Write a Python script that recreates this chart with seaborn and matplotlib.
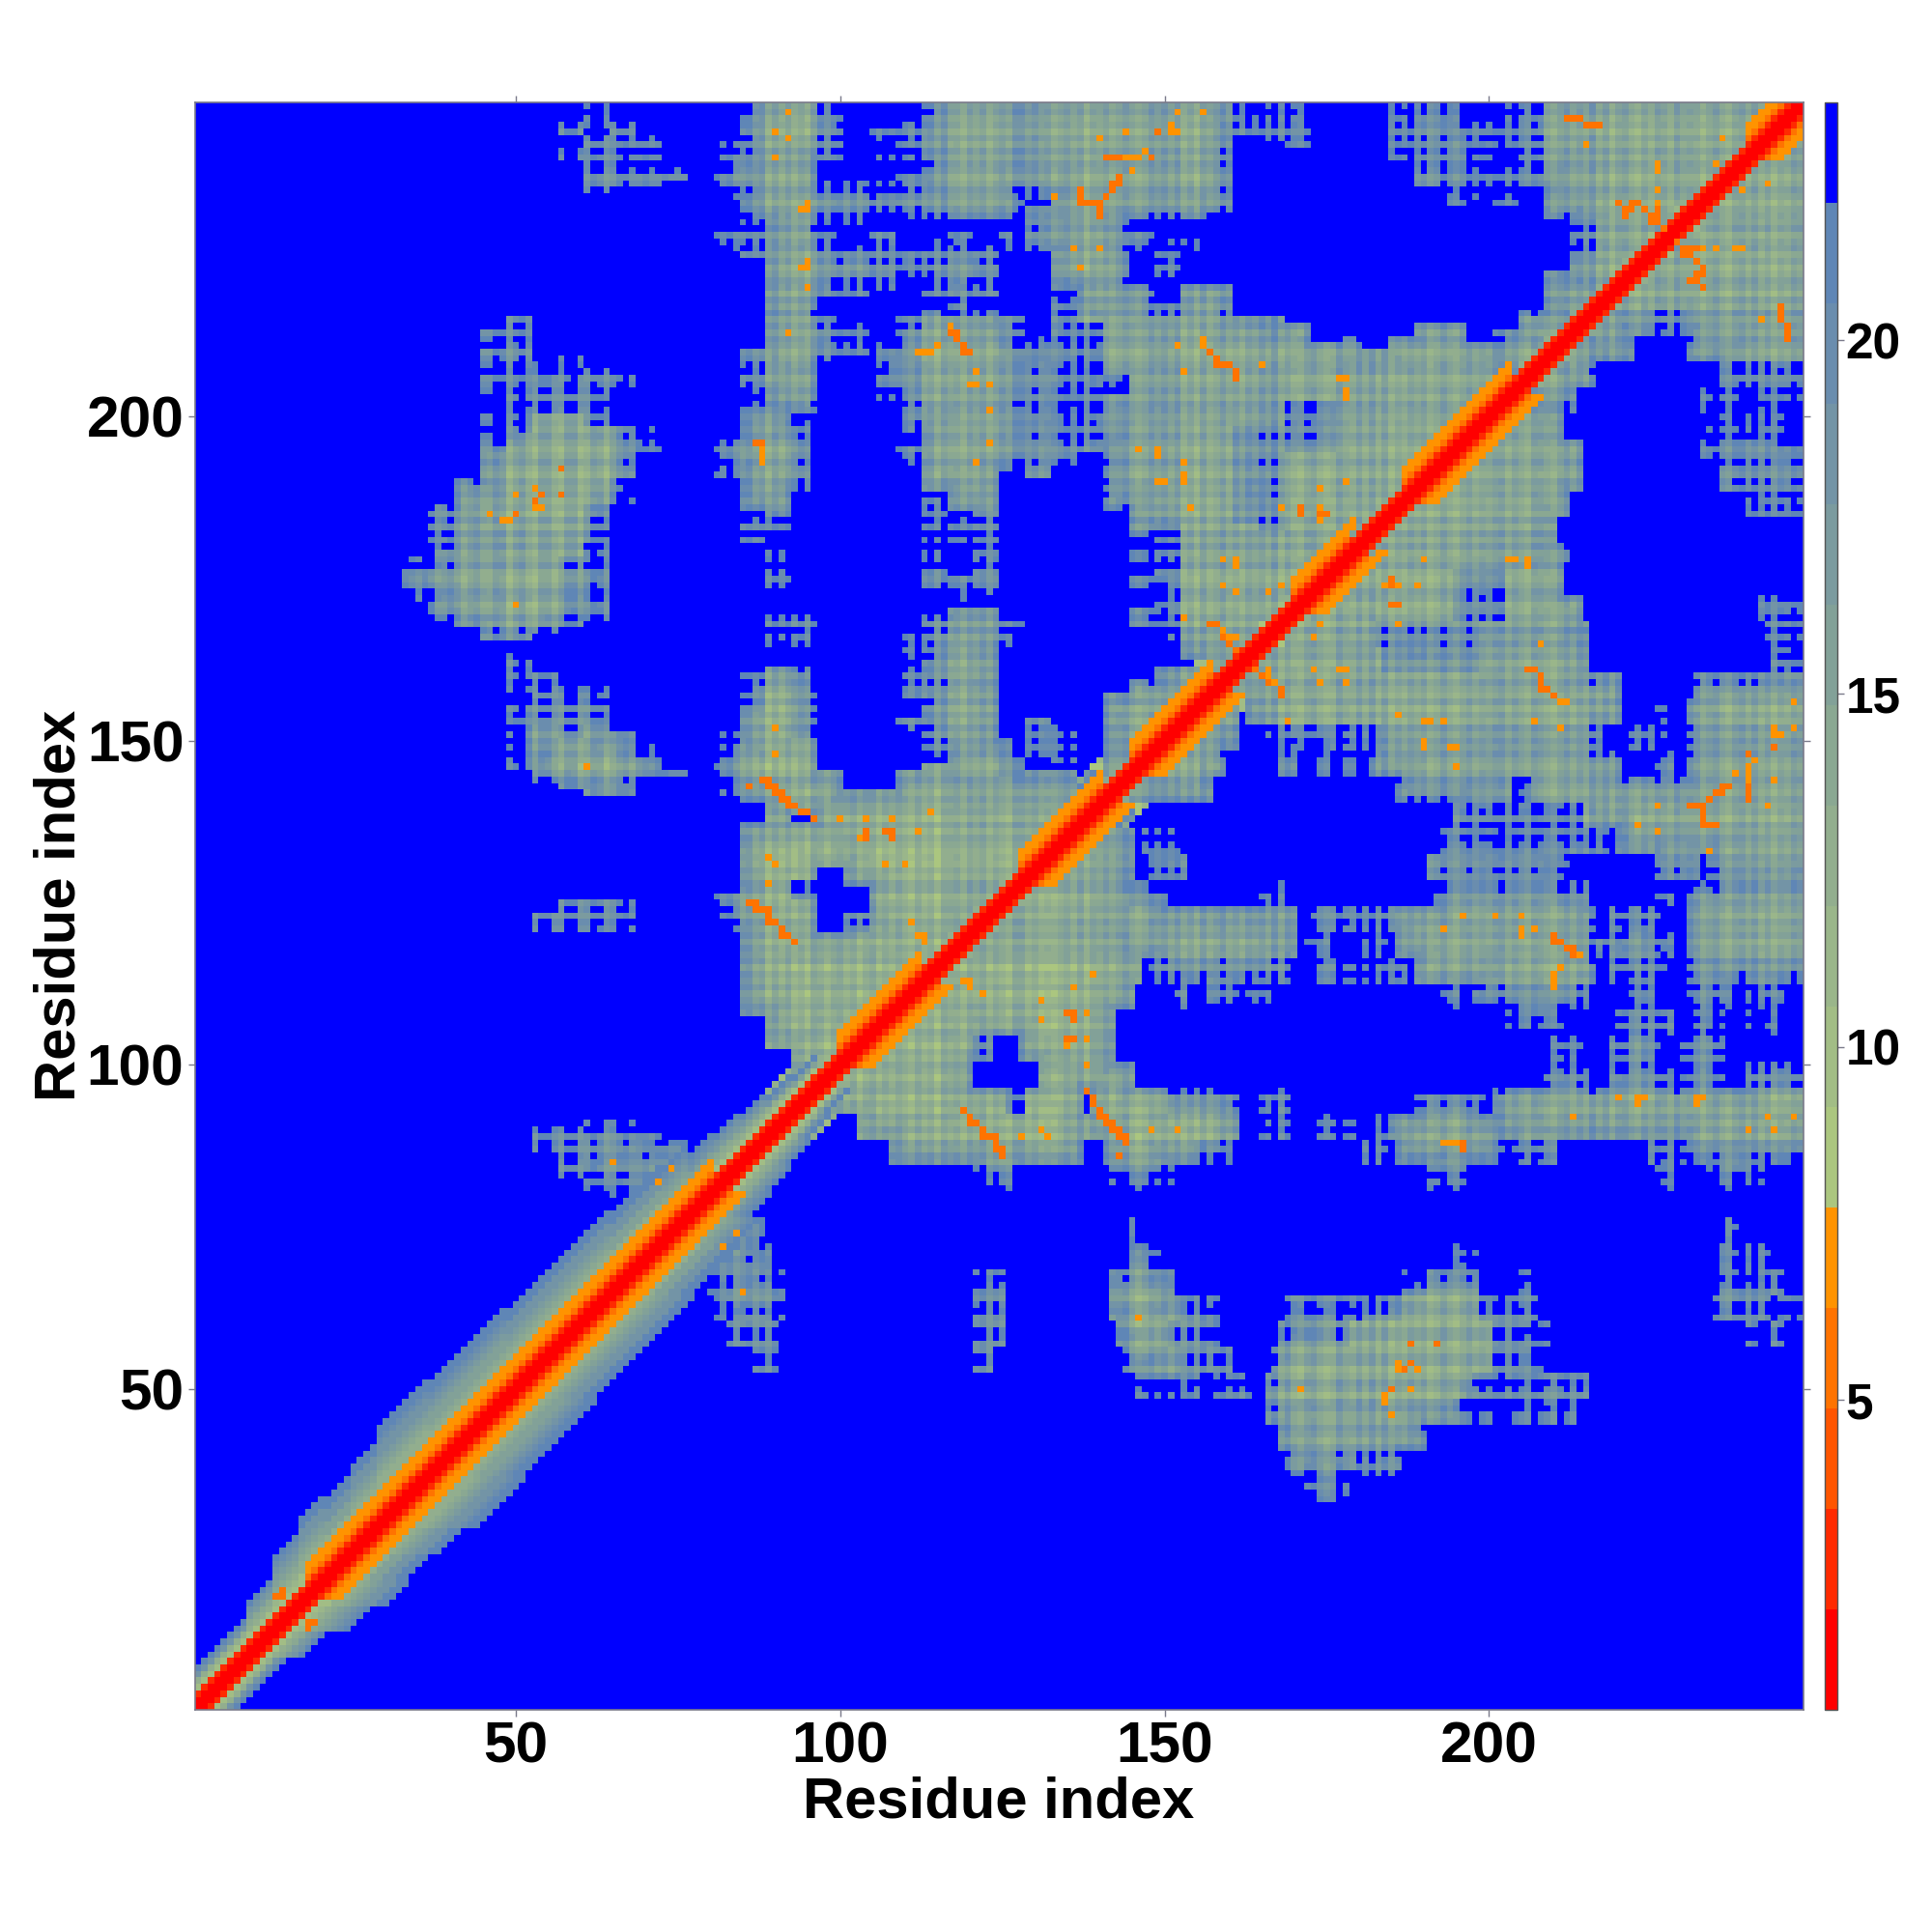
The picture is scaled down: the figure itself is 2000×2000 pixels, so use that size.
import re
import numpy as np
import matplotlib
matplotlib.use("Agg")
import matplotlib.pyplot as plt
from matplotlib.colors import ListedColormap
import seaborn as sns

N_RESIDUES = 248
X_TICKS = [50, 100, 150, 200]
Y_TICKS = [50, 100, 150, 200]
CBAR_TICKS = [5, 10, 15, 20]
AXIS_LABEL = "Residue index"

# distance classes of the contact regions
LEVEL_VALUES = {"1": 11.5, "2": 13.0, "3": 14.6, "4": 16.0, "5": 17.4, "6": 18.4,
                "7": 19.4, "8": 20.4, "9": 21.6, "a": 22.6}
# added to a region's cells, by their distance from its rim (1 = outermost)
rim_fade = [4.0, 2.6, 1.5, 0.7, 0.3]

# one row per 4 residues of y (1-4, 5-8, ...): "x0-x1:class", right of the diagonal
contact_rows = [
    "", "", "", "", "", "", "", "",
    "172-178:8",
    "169-179:5 180-186:8",
    "168-190:4",
    "166-194:4 195-197:9 199-200:9 204-206:9 208-210:9 212-213:9",
    "146-156:7 158-163:9 166-197:3 198-215:8",
    "87-90:9 121-123:8 144-152:4 153-160:8 167-200:3 201-208:7",
    "83-90:8 121-125:8 143-150:3 151-158:7 168-178:6 179-200:3 201-209:7 240-241:9 244-245:9",
    "81-91:6 121-125:8 142-152:3 153-158:7 169-180:9 181-186:6 187-198:3 199-203:6 204-207:8 235-243:8 245-248:a",
    "80-91:5 121-125:8 142-151:3 186-190:7 191-198:4 199-200:7 204-206:9 236-245:8",
    "80-90:5 143-149:5 195-198:6 235-243:8",
    "80-88:4 144-145:8 237-239:8",
    "82-85:4",
    "121-128:7 141-151:7 191-197:7 226-228:9 234-242:7",
    "108-137:3 141-154:3 155-161:6 181-184:8 186-202:4 204-210:8 225-228:8 230-248:5",
    "103-161:2 165-169:9 174-179:a 183-186:9 186-205:3 206-248:3",
    "97-125:2 126-128:a 129-137:2 139-150:2 151-161:5 165-169:9 189-199:7 201-248:3",
    "101-120:2 131-145:2 209-215:6 218-228:6 230-236:6 240-248:8",
    "105-120:2 121-123:8 128-142:3 210-214:a 219-226:6 230-236:6",
    "109-142:2 203-211:7 220-228:8 231-236:7 240-241:a 243-244:a",
    "113-145:2 152-153:8 156-161:6 163-166:9 193-195:9 198-213:5 214-216:9 222-227:7 231-237:6 239-241:a 242-245:9",
    "117-146:2 148-169:5 174-176:9 178-187:a 189-216:3 218-227:7 231-248:5",
    "121-170:3 172-175:9 180-184:9 186-215:3 216-228:5 231-248:3",
    "125-170:3 173-185:8 186-216:3 219-226:8 231-248:3",
    "129-144:3 145-150:8 165-168:a 192-210:6 211-215:8 226-228:a 231-248:5",
    "133-145:4 148-153:9 191-208:8 209-212:a 226-232:8 234-248:6",
    "137-145:4 147-152:a 193-205:9 206-218:9 220-248:4",
    "141-145:5 195-205:8 206-214:9 215-248:3",
    "145-157:3 186-203:4 204-206:9 207-248:3",
    "149-159:3 168-170:9 174-175:a 178-180:a 182-220:4 226-228:9 231-248:4",
    "153-161:3 165-175:7 176-183:8 184-217:4 221-227:9 231-248:4",
    "157-161:2 163-220:3 226-227:a 231-248:3",
    "161-220:3 232-248:4",
    "165-183:3 184-198:6 199-215:3 244-248:9",
    "169-182:3 183-198:7 199-215:4 243-248:9",
    "173-194:3 195-202:8 203-214:3 242-248:a",
    "177-194:3 195-202:7 203-211:3",
    "181-212:3",
    "185-210:3",
    "189-212:3 240-248:a",
    "193-214:3 236-248:8",
    "197-214:3 233-248:7",
    "201-211:3 234-237:a 238-245:9",
    "205-213:4 233-238:9 241-248:9",
    "209-216:3 236-248:8",
    "213-222:4 231-248:4",
    "217-224:4 225-230:6 231-248:4",
    "221-248:3",
    "225-248:3",
    "229-248:3",
    "233-248:3",
    "237-248:3",
    "241-248:3",
    "245-248:3",
]

# how far the backbone band reaches from the diagonal, per 4 residues of y
band_widths = [6, 6, 8, 11, 13, 12, 13, 15, 15, 14, 14, 14, 13, 13, 13, 13, 12, 12,
               11, 9, 8, 7, 6, 5]
band_fade = [9.5, 10.2, 11.0, 12.0, 13.0, 14.0, 15.0, 16.0, 17.0, 18.0, 19.0, 20.0, 20.8, 21.3]
diag_fill = 11.5

# values along the diagonal, by residue separation
helix_profile = [1.0, 1.4, 2.8, 6.0, 6.9, 6.6]
other_profile = [1.0, 1.4, 3.0]
helix_ranges = [(18, 80), (100, 112), (128, 140), (145, 157), (170, 178), (187, 203), (240, 248)]

# packing of each residue, 0 = dense, 8 = loose (the plaid of the map)
residue_packing = (
    "4444444444" "4444444444" "4444444444" "5465366236" "5146226515"
    "7316621661" "2651367456" "4565456454" "5362463526" "3624165256"
    "3514625364" "2635164526" "4625316624" "1213526154" "6357313646"
    "3625162473" "5264637152" "1563127437" "3726142535" "1363146354"
    "6736426531" "4625273615" "6315265274" "5414631563" "62514365"
)
PACKING_STEP = 0.8

# side-chain contacts (x, y) right of the diagonal
hot_dark = [
    (18, 13), (18, 14), (19, 14),
    (138, 96), (139, 95), (139, 94), (140, 93), (140, 92), (141, 92), (141, 91), (142, 91),
    (142, 90), (143, 90), (143, 89), (144, 89), (144, 88), (143, 86),
    (119, 93), (120, 92), (120, 91), (121, 91), (122, 90), (122, 89), (123, 89), (124, 89),
    (124, 88), (124, 87), (125, 87), (125, 86),
    (196, 88), (196, 87), (187, 53), (188, 54), (185, 50), (192, 57), (188, 57),
    (135, 108), (136, 108), (136, 107), (135, 104), (136, 104),
    (210, 120), (210, 119), (211, 119), (212, 118), (213, 118), (213, 117),
    (231, 140), (232, 140), (233, 140), (234, 141), (235, 142), (236, 142), (236, 143),
    (237, 143), (233, 139), (233, 138), (233, 137), (234, 137), (235, 137),
    (240, 143), (240, 142), (240, 141), (240, 148), (244, 149),
    (206, 161), (207, 161), (208, 160), (208, 159), (208, 158), (209, 158), (210, 157),
    (164, 161), (165, 160), (166, 159), (168, 158), (168, 157),
    (185, 175), (185, 174), (185, 171), (186, 171),
    (246, 212), (246, 213), (246, 214), (245, 215), (245, 216), (245, 217),
    (229, 227), (230, 226), (231, 226), (232, 226), (230, 225), (231, 225), (232, 224),
    (233, 223), (233, 222), (232, 222), (232, 221), (233, 220), (231, 221),
]
hot_light = [
    (171, 50), (146, 61), (131, 90), (128, 89), (132, 89), (148, 90), (152, 90),
    (193, 88), (194, 88), (195, 88), (213, 92), (220, 95), (223, 95), (223, 94), (224, 95),
    (232, 95), (232, 94), (233, 95), (240, 90), (243, 92), (247, 92), (244, 90),
    (186, 54), (186, 53), (189, 53), (184, 49), (184, 48), (188, 50), (185, 46),
    (119, 113), (120, 113), (120, 112), (122, 111), (131, 110), (136, 112), (139, 114),
    (131, 107), (138, 108), (138, 104), (138, 100), (210, 113), (210, 112), (135, 103),
    (205, 123), (205, 121), (205, 120), (207, 121), (196, 123), (201, 123), (193, 121),
    (211, 115), (210, 114), (214, 117),
    (240, 146), (240, 145), (240, 144), (241, 147), (238, 145), (244, 144), (243, 140),
    (226, 140), (223, 137), (226, 136), (234, 133), (244, 152), (244, 151), (245, 151),
    (247, 156), (247, 152), (211, 156), (212, 156), (208, 165),
    (186, 154), (190, 153), (191, 153), (193, 153), (190, 150), (190, 149), (194, 149),
    (195, 149), (195, 146), (207, 153), (211, 152),
    (166, 160), (167, 159), (177, 161), (178, 161), (173, 161), (166, 161), (173, 166),
    (174, 168), (169, 153), (178, 159), (174, 159), (186, 168),
    (184, 174), (186, 174), (189, 174), (203, 178), (204, 178), (206, 178), (206, 177),
    (190, 178), (183, 179), (184, 179),
    (242, 215), (238, 226), (233, 226), (235, 226), (245, 216), (239, 226), (235, 236),
    (238, 226), (243, 236), (239, 235), (82, 72), (84, 74), (85, 65), (72, 85), (76, 80),
]

BLUE_VALUE = 23.0
MIN_CONTACT = 7.9

# ---------- build the symmetric distance map ----------
packing = (np.array([int(c) for c in residue_packing]) - 4) * PACKING_STEP
base = np.full((N_RESIDUES, N_RESIDUES), np.nan)  # base[y, x], 0-based

for k, row in enumerate(contact_rows):
    for x0, x1, cls in re.findall(r"(\d+)-(\d+):(\w)", row):
        for x in range(int(x0), int(x1) + 1):
            for y in range(4 * k + 1, min(4 * k + 5, N_RESIDUES + 1)):
                if x > y:
                    base[y - 1, x - 1] = base[x - 1, y - 1] = LEVEL_VALUES[cls]

# rim depth of every region (the diagonal counts as inside)
I, J = np.indices(base.shape)
inside = ~np.isnan(base) | (np.abs(I - J) <= 7)
for step, extra in enumerate(rim_fade):
    pad = np.pad(inside, 1, constant_values=True)
    eroded = np.ones_like(inside)
    for dy in (-1, 0, 1):
        for dx in (-1, 0, 1):
            eroded &= pad[1 + dy:1 + dy + N_RESIDUES, 1 + dx:1 + dx + N_RESIDUES]
    rim = inside & ~eroded
    fadeable = rim & ~np.isnan(base) & (base < 19.5)
    base[fadeable] += extra
    inside = eroded

matrix = base + packing[None, :] + packing[:, None]
matrix[np.isnan(matrix)] = BLUE_VALUE
matrix[matrix >= 21.95] = BLUE_VALUE
matrix[matrix < MIN_CONTACT] = MIN_CONTACT

for y in range(81, N_RESIDUES + 1):
    for d in range(3, 8):
        x = y + d
        if x <= N_RESIDUES and matrix[y - 1, x - 1] == BLUE_VALUE:
            matrix[y - 1, x - 1] = diag_fill + packing[x - 1]

for k, width in enumerate(band_widths):
    for y in range(4 * k + 1, 4 * k + 5):
        for d in range(3, width + 1):
            x = y + d
            if x <= N_RESIDUES:
                idx = int(round((d - 3) / max(width - 3, 1) * (len(band_fade) - 1)))
                matrix[y - 1, x - 1] = band_fade[idx]


def in_helix(i):
    return any(a <= i <= b for a, b in helix_ranges)


for y in range(1, N_RESIDUES + 1):
    prof = helix_profile if in_helix(y) else other_profile
    for d, val in enumerate(prof):
        x = y + d
        if x <= N_RESIDUES:
            matrix[y - 1, x - 1] = val

for x, y in hot_light:
    matrix[y - 1, x - 1] = 7.0
for x, y in hot_dark:
    matrix[y - 1, x - 1] = 5.6

upper = np.triu(matrix)
matrix = upper + upper.T - np.diag(np.diag(matrix))

# ---------- colours ----------
warm = ["#ff0000", "#ff2a00", "#ff5500", "#ff7300", "#ff9300"]
cool = ["#abc67f", "#a2bd85", "#9ab68a", "#92ae8e", "#8aa892",
        "#82a198", "#7b9b9f", "#7394a6", "#6a8dae", "#5f86b6"]
colors = warm + cool + ["#0000ff"]
cmap = ListedColormap(colors)
VMIN, VMAX = 0.615, 23.37

# ---------- figure ----------
sns.set_theme(style="white")
plt.rcParams["font.family"] = ["Liberation Sans", "DejaVu Sans"]
plt.rcParams["font.weight"] = "bold"

W, H = 2000, 2000
fig = plt.figure(figsize=(20, 20), dpi=100, facecolor="white")
ax = fig.add_axes([201.5 / W, 1 - 1770 / H, 1665.5 / W, 1664 / H])
cax = fig.add_axes([1889 / W, 1 - 1770 / H, 13 / W, 1664 / H])

sns.heatmap(matrix, ax=ax, cbar_ax=cax, cmap=cmap, vmin=VMIN, vmax=VMAX,
            xticklabels=False, yticklabels=False, square=False, rasterized=True)
ax.invert_yaxis()
ax.set_ylim(0, N_RESIDUES)
ax.set_xlim(0, N_RESIDUES)

grey = "#7a7a8a"
for sp in ax.spines.values():
    sp.set_visible(True)
    sp.set_color(grey)
    sp.set_linewidth(1.2)

ax.set_xticks([t - 0.5 for t in X_TICKS], labels=[str(t) for t in X_TICKS])
ax.set_yticks([t - 0.5 for t in Y_TICKS], labels=[str(t) for t in Y_TICKS])
ax.tick_params(axis="both", which="major", direction="out", length=5, width=1, color=grey,
               top=True, right=True, bottom=True, left=True,
               labelsize=43.5, pad=3, labelcolor="black")
for lab in ax.get_xticklabels() + ax.get_yticklabels():
    lab.set_fontweight("bold")
    lab.set_rotation(0)

fig.text(1034 / W, 1 - 1866 / H, AXIS_LABEL, ha="center", va="center",
         fontsize=43, fontweight="bold", color="black")
fig.text(62 / W, 1 - 937 / H, AXIS_LABEL, ha="center", va="center", rotation=90,
         fontsize=43, fontweight="bold", color="black")

cbar = ax.collections[0].colorbar
cbar.set_ticks(CBAR_TICKS)
cbar.ax.tick_params(length=5, width=1, color=grey, labelsize=37, pad=1, labelcolor="black")
for lab in cbar.ax.get_yticklabels():
    lab.set_fontweight("bold")
cbar.outline.set_visible(True)
cbar.outline.set_edgecolor("#555555")
cbar.outline.set_linewidth(1.0)

fig.savefig("out.png", dpi=100, facecolor="white")
